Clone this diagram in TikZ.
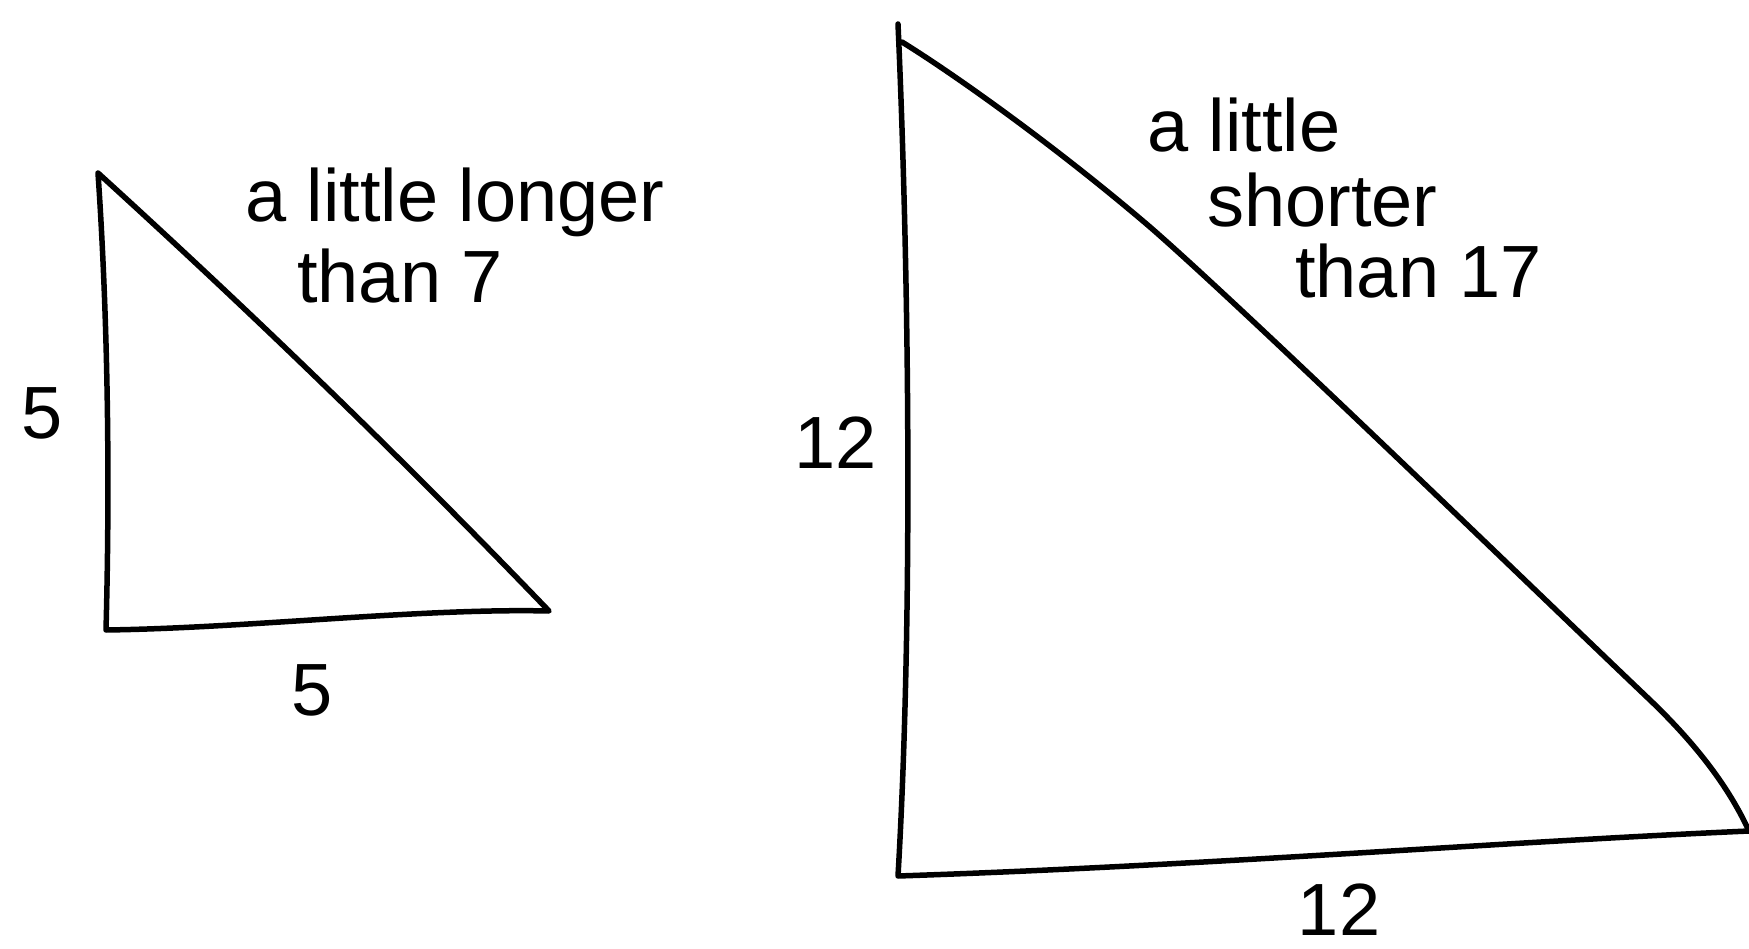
\documentclass[tikz,border=0pt]{standalone}
\usepackage{fontspec}
\setmainfont{Liberation Sans}
\begin{document}
\begin{tikzpicture}[x=1pt,y=-1pt,
  edge/.style={line width=5.5pt,line cap=round,line join=round,black},
  lbl/.style={font=\fontsize{74}{80}\selectfont,inner sep=0pt},
  txt/.style={lbl,anchor=base west}]
\useasboundingbox (0,0) rectangle (1749,949);
% left triangle
\coordinate (la) at (98,173);
\coordinate (lb) at (106,630);
\coordinate (lc) at (549,611);
\draw[edge] (la) .. controls (108,320) and (110,480) .. (lb)
  .. controls (250,628) and (420,608) .. (lc)
  .. controls (404,460) and (253,314) .. (la);
% right triangle
\coordinate (ra) at (898,24);
\coordinate (rb) at (898,876);
\coordinate (rc) at (1749,831);
\coordinate (rh) at (902,42);
\draw[edge] (ra) .. controls (908,250) and (914,600) .. (rb)
  .. controls (1200,866) and (1500,842) .. (rc);
\draw[edge] (rh) .. controls (960,78) and (1060,150) .. (1150,227)
  .. controls (1250,314) and (1550,605) .. (1650,700)
  .. controls (1700,748) and (1730,790) .. (rc);
% labels
\node[lbl] (l5a) at (42,413) {5};
\node[lbl] (l5b) at (312,690) {5};
\node[txt] (llong1) at (245,222) {a little longer};
\node[txt] (llong2) at (297,303) {than 7};
\node[lbl] (r12a) at (836,443) {12};
\node[lbl] (r12b) at (1339,910) {12};
\node[txt] (rs1) at (1147,152) {a little};
\node[txt] (rs2) at (1207,227) {shorter};
\node[txt] (rs3) at (1295,298) {than 17};
\end{tikzpicture}
\end{document}
